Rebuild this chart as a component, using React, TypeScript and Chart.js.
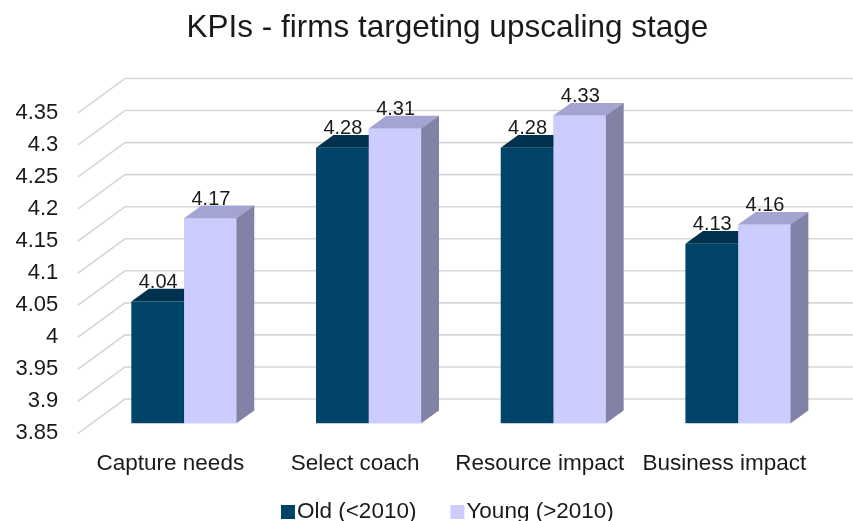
import React, { useEffect, useRef } from 'react';
import { Chart, registerables } from 'chart.js';

Chart.register(...registerables);

// ---- data ----
const categories = ['Capture needs', 'Select coach', 'Resource impact', 'Business impact'];
const seriesNames = ['Old (<2010)', 'Young (>2010)'];
const oldValues = [4.04, 4.28, 4.28, 4.13];
const youngValues = [4.17, 4.31, 4.33, 4.16];
const yTicks = [3.85, 3.9, 3.95, 4, 4.05, 4.1, 4.15, 4.2, 4.25, 4.3, 4.35];
const chartTitle = 'KPIs - firms targeting upscaling stage';

// ---- styles ----
const FONT = "'Liberation Sans', Arial, sans-serif";
const TEXT = '#1a1a1a';
const GRID = '#d6d6d6';
const frontColors = ['#004469', '#ccccff'];
const topColors = ['#00324f', '#a4a4d2'];
const sideColors = ['#00324f', '#8282a7'];

// oblique 3D geometry (pixels)
const WALL_DX = 47;
const WALL_DY = -34.3;
const BAR_DX = 13.7;
const BAR_DY = -10;
const DEPTH_DX = 17.5;
const DEPTH_DY = -12.7;

const threeD = {
  id: 'threeD',
  beforeDatasetsDraw(chart: any) {
    const { ctx, chartArea, scales } = chart;
    const y = scales.y;
    ctx.save();
    ctx.strokeStyle = GRID;
    ctx.lineWidth = 1.6;
    for (const v of yTicks) {
      const py = y.getPixelForValue(v);
      ctx.beginPath();
      ctx.moveTo(chartArea.left, py);
      ctx.lineTo(chartArea.left + WALL_DX, py + WALL_DY);
      ctx.lineTo(chart.width + 5, py + WALL_DY);
      ctx.stroke();
    }
    ctx.restore();
    ctx.save();
    ctx.translate(BAR_DX, BAR_DY);
  },
  afterDatasetsDraw(chart: any) {
    const ctx = chart.ctx;
    const n = chart.data.labels.length;
    const nd = chart.data.datasets.length;
    for (let i = 0; i < n; i++) {
      for (let di = 0; di < nd; di++) {
        const el = chart.getDatasetMeta(di).data[i];
        const { x, y, base, width } = el.getProps(['x', 'y', 'base', 'width'], true);
        const l = x - width / 2;
        const r = x + width / 2;
        if (di > 0) {
          ctx.fillStyle = frontColors[di];
          ctx.fillRect(l, y, width, base - y);
        }
        ctx.fillStyle = topColors[di];
        ctx.beginPath();
        ctx.moveTo(l, y);
        ctx.lineTo(l + DEPTH_DX, y + DEPTH_DY);
        ctx.lineTo(r + DEPTH_DX, y + DEPTH_DY);
        ctx.lineTo(r, y);
        ctx.closePath();
        ctx.fill();
        ctx.fillStyle = sideColors[di];
        ctx.beginPath();
        ctx.moveTo(r - 0.3, y);
        ctx.lineTo(r + DEPTH_DX, y + DEPTH_DY);
        ctx.lineTo(r + DEPTH_DX, base + DEPTH_DY);
        ctx.lineTo(r - 0.3, base);
        ctx.closePath();
        ctx.fill();
      }
    }
    // value labels
    ctx.fillStyle = TEXT;
    ctx.font = `20px ${FONT}`;
    ctx.textAlign = 'center';
    ctx.textBaseline = 'alphabetic';
    for (let di = 0; di < nd; di++) {
      const meta = chart.getDatasetMeta(di);
      meta.data.forEach((el: any, i: number) => {
        const v = chart.data.datasets[di].data[i];
        ctx.fillText(String(v), el.x + 0.5, el.y - 13.5);
      });
    }
    ctx.restore();
  },
  afterDraw(chart: any) {
    // legend
    const { ctx, chartArea } = chart;
    ctx.save();
    ctx.font = `22.5px ${FONT}`;
    ctx.textBaseline = 'alphabetic';
    ctx.textAlign = 'left';
    const box = 14;
    const gap = 2;
    const itemGap = 34;
    const widths = seriesNames.map((s) => box + gap + ctx.measureText(s).width);
    const total = widths.reduce((a, b) => a + b, 0) + itemGap * (widths.length - 1);
    let x = (chartArea.left + chartArea.right) / 2 - total / 2;
    const baseY = 518;
    seriesNames.forEach((s, i) => {
      ctx.fillStyle = frontColors[i];
      ctx.fillRect(x, baseY - 13, box, box);
      ctx.fillStyle = TEXT;
      ctx.fillText(s, x + box + gap, baseY);
      x += widths[i] + itemGap;
    });
    ctx.restore();
  },
};

export default function App() {
  const ref = useRef<HTMLCanvasElement>(null);
  useEffect(() => {
    const chart = new Chart(ref.current as HTMLCanvasElement, {
      type: 'bar',
      data: {
        labels: categories,
        datasets: [
          { label: seriesNames[0], data: oldValues, base: yTicks[0], backgroundColor: frontColors[0], borderWidth: 0, clip: false as any },
          { label: seriesNames[1], data: youngValues, base: yTicks[0], backgroundColor: frontColors[1], borderWidth: 0, clip: false as any },
        ] as any,
      },
      options: {
        responsive: false,
        animation: false,
        devicePixelRatio: 1,
        layout: { padding: { left: 8, right: 36.2, top: 0, bottom: 42.7 } },
        datasets: { bar: { categoryPercentage: 0.571, barPercentage: 1 } },
        plugins: {
          legend: { display: false },
          tooltip: { enabled: false },
          title: {
            display: true,
            text: chartTitle,
            fullSize: false,
            color: TEXT,
            font: { family: FONT, size: 31.5, weight: 'normal' },
            padding: { top: 9.8, bottom: 65.2 },
          },
        },
        scales: {
          x: {
            grid: { display: false },
            border: { display: false },
            ticks: {
              color: TEXT,
              font: { family: FONT, size: 22.5 },
              padding: 9,
              autoSkip: false,
              maxRotation: 0,
            },
            afterFit: (s: any) => {
              s.height = 45;
            },
          },
          y: {
            min: 3.85,
            max: 4.35,
            grid: { display: false, drawTicks: false },
            border: { display: false },
            ticks: {
              color: TEXT,
              font: { family: FONT, size: 22 },
              padding: 19.7,
              callback: (v: any) => String(Number(Number(v).toFixed(2))),
            },
            afterBuildTicks: (s: any) => {
              s.ticks = yTicks.map((v) => ({ value: v }));
            },
            afterFit: (s: any) => {
              s.width = 70;
            },
          },
        },
      },
      plugins: [threeD],
    });
    return () => chart.destroy();
  }, []);
  return (
    <div style={{ position: 'fixed', left: 0, top: 0, width: 853, height: 521, background: '#ffffff' }}>
      <canvas ref={ref} width={853} height={521} style={{ width: 853, height: 521, display: 'block' }} />
    </div>
  );
}
